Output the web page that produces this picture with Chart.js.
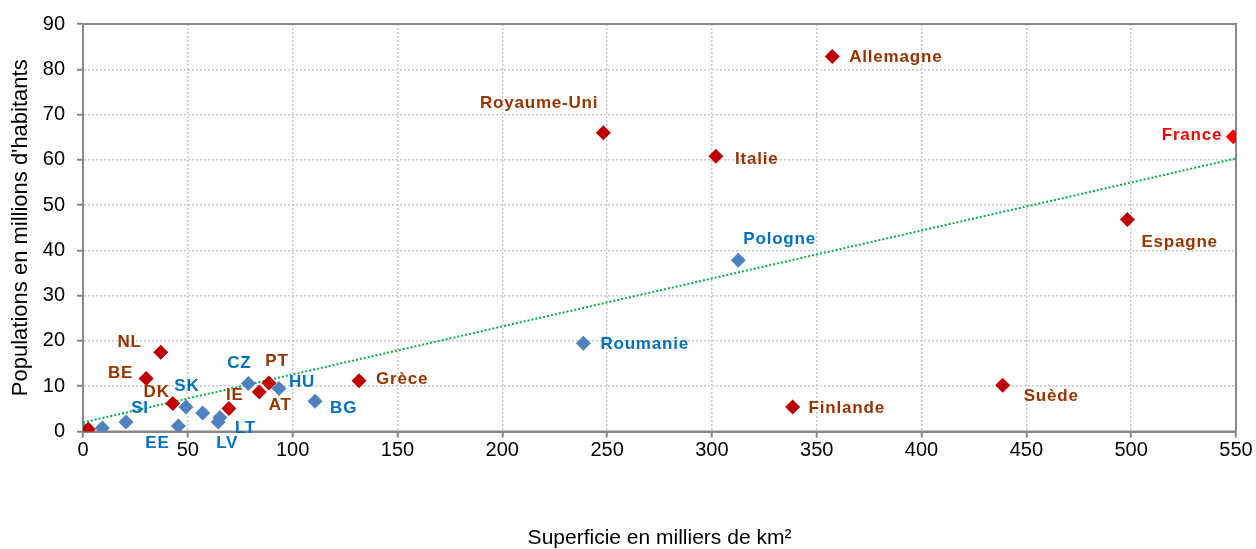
<!DOCTYPE html>
<html>
<head>
<meta charset="utf-8">
<script src="https://cdn.jsdelivr.net/npm/chart.js@4"></script>
<style>
  html, body { margin: 0; padding: 0; background: #fff; }
  #wrap { width: 1256px; height: 549px; }
</style>
</head>
<body>
<div id="wrap"><canvas id="chart"></canvas></div>
<script>
// Superficie (milliers de km²) / population (millions)
const redNames = ['Allemagne', 'Royaume-Uni', 'Italie', 'Espagne', 'Finlande', 'Suède', 'Grèce',
    'NL', 'BE', 'DK', 'IE', 'PT', 'AT', ''];
const redArea = [357.4, 248.2, 301.9, 498.2, 338.5, 438.7, 131.7, 37.1, 30.1, 42.8, 69.6, 88.7, 84.1, 2.5];
const redPop = [82.8, 66.0, 60.8, 46.8, 5.4, 10.2, 11.2, 17.5, 11.7, 6.2, 5.1, 10.7, 8.7, 0.5];

const franceNames = ['France'];
const franceArea = [548.7];
const francePop = [65.1];

const blueNames = ['Pologne', 'Roumanie', 'BG', 'HU', 'CZ', 'SK', 'SI', 'EE', 'LV', 'LT', '', '', ''];
const blueArea = [312.6, 238.7, 110.7, 93.5, 78.9, 49.1, 20.5, 45.5, 64.5, 65.3, 57.1, 9.2, 0.3];
const bluePop = [37.8, 19.5, 6.7, 9.5, 10.6, 5.4, 2.1, 1.2, 2.1, 3.1, 4.1, 0.8, 0.4];

// droite de tendance (extrémités)
const trendArea = [0, 550];
const trendPop = [2.0, 60.3];

// placement des étiquettes : [dx, dy, alignement]
const redLabelPos = [[17, 1, 'left'], [-5, -29, 'right'], [19, 3, 'left'], [14, 23, 'left'],
    [16, 1, 'left'], [21, 11, 'left'], [17, -1, 'left'], [-19, -10, 'right'], [-13, -5, 'right'],
    [-3, -11, 'right'], [6, -13, 'center'], [8, -22, 'center'], [21, 13, 'center'], [0, 0, 'left']];
const franceLabelPos = [[-11, -1, 'right']];
const blueLabelPos = [[5, -21, 'left'], [17, 1, 'left'], [15, 7, 'left'], [10, -6, 'left'],
    [-9, -20, 'center'], [1, -21, 'center'], [14, -14, 'center'], [-21, 17, 'center'],
    [9, 21, 'center'], [15, 11, 'left'], [0, 0, 'left'], [0, 0, 'left'], [0, 0, 'left']];

const toPoints = (xs, ys) => xs.map((x, i) => ({ x, y: ys[i] }));
const FONT = '"Liberation Sans", Arial, sans-serif';

const pointLabels = {
    id: 'pointLabels',
    afterDatasetsDraw(chart) {
        const ctx = chart.ctx;
        ctx.save();
        ctx.font = 'bold 17px ' + FONT;
        ctx.letterSpacing = '0.8px';
        ctx.textBaseline = 'middle';
        chart.data.datasets.forEach((ds, di) => {
            if (!ds.names) return;
            const meta = chart.getDatasetMeta(di);
            meta.data.forEach((pt, i) => {
                const name = ds.names[i];
                if (!name) return;
                const [dx, dy, align] = ds.labelPos[i];
                ctx.fillStyle = ds.labelColor;
                ctx.textAlign = align;
                ctx.fillText(name, pt.x + dx, pt.y + dy);
            });
        });
        ctx.restore();
    }
};

const frameBox = {
    id: 'frameBox',
    beforeDatasetsDraw(chart) {
        const { ctx, chartArea: a } = chart;
        ctx.save();
        ctx.strokeStyle = '#878787';
        ctx.lineWidth = 2;
        ctx.strokeRect(a.left, a.top, a.right - a.left, a.bottom - a.top);
        ctx.restore();
    }
};

const gridOpts = { color: '#c8c8c8', lineWidth: 1.5, tickLength: 6, tickColor: '#878787', tickWidth: 2 };
const borderOpts = { color: '#878787', width: 2, dash: [2, 2] };

new Chart(document.getElementById('chart'), {
    type: 'scatter',
    data: {
        datasets: [
            {
                data: toPoints(franceArea, francePop),
                names: franceNames, labelPos: franceLabelPos, labelColor: '#ff0000',
                backgroundColor: '#ff0000', pointStyle: 'rectRot', pointRadius: 7.5, borderWidth: 0
            },
            {
                data: toPoints(redArea, redPop),
                names: redNames, labelPos: redLabelPos, labelColor: '#993300',
                backgroundColor: '#c00000', pointStyle: 'rectRot', pointRadius: 7.5, borderWidth: 0
            },
            {
                data: toPoints(blueArea, bluePop),
                names: blueNames, labelPos: blueLabelPos, labelColor: '#0070c0',
                backgroundColor: '#4f81bd', pointStyle: 'rectRot', pointRadius: 7.5, borderWidth: 0
            },
            {
                type: 'line',
                data: toPoints(trendArea, trendPop),
                borderColor: '#00b050', borderWidth: 2, borderDash: [2, 2],
                pointRadius: 0, fill: false
            }
        ]
    },
    options: {
        responsive: true,
        maintainAspectRatio: false,
        animation: false,
        layout: { padding: { top: 21, right: 20, bottom: 0, left: 0 } },
        plugins: { legend: { display: false }, tooltip: { enabled: false } },
        scales: {
            x: {
                type: 'linear', min: 0, max: 550,
                ticks: { stepSize: 50, color: '#000', font: { family: FONT, size: 20 }, padding: 1, maxRotation: 0 },
                grid: gridOpts,
                border: borderOpts,
                title: {
                    display: true, text: 'Superficie en milliers de km²', color: '#000',
                    font: { family: FONT, size: 21, lineHeight: 1 }, padding: { top: 0, bottom: 0 }
                },
                afterFit(scale) { scale.height = 117.5; }
            },
            y: {
                min: 0, max: 90,
                ticks: { stepSize: 10, color: '#000', font: { family: FONT, size: 20 }, padding: 12 },
                grid: gridOpts,
                border: borderOpts,
                title: {
                    display: true, text: "Populations en millions d'habitants", color: '#000',
                    font: { family: FONT, size: 22 }, padding: { top: 8, bottom: 0 }
                },
                afterFit(scale) { scale.width = 83; }
            }
        }
    },
    plugins: [frameBox, pointLabels]
});
</script>
</body>
</html>
